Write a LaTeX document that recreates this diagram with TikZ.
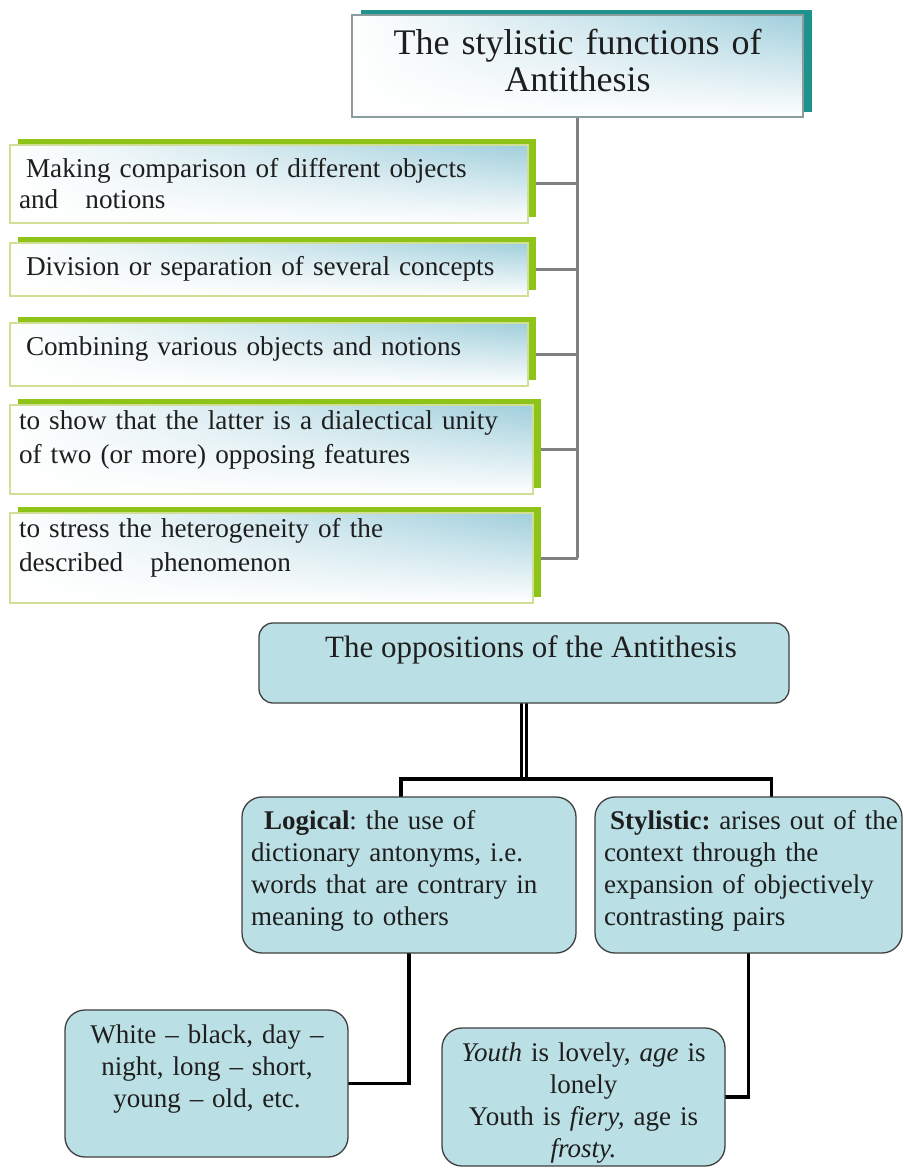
\documentclass[tikz,border=0pt]{standalone}
\usepackage{fontspec}
\setmainfont{Liberation Serif}
\usetikzlibrary{shadows,backgrounds,calc,fadings}

\definecolor{leaf}{RGB}{142,196,24}
\definecolor{tealedge}{RGB}{30,146,140}
\definecolor{paleblue}{RGB}{160,207,220}
\definecolor{boxblue}{RGB}{186,223,228}
\definecolor{paleline}{RGB}{208,222,150}
\definecolor{frame}{RGB}{140,156,156}
\definecolor{trunkgray}{RGB}{128,128,128}
\definecolor{ink}{RGB}{30,30,30}

% white veil that is solid on the left and clear towards the right
\tikzfading[name=leftveil, left color=transparent!0, middle color=transparent!75,
  right color=transparent!100]

\begin{document}
\frenchspacing
\begin{tikzpicture}[x=1pt,y=-1pt,
  every node/.style={inner sep=0pt, outer sep=0pt},
  glowfill/.style={fill=white, path picture={
    \shade[top color=paleblue, bottom color=white]
      (path picture bounding box.south west) rectangle (path picture bounding box.north east);
    \fill[white, path fading=leftveil]
      (path picture bounding box.south west) rectangle (path picture bounding box.north east);}},
  headbox/.style={anchor=north west, draw=frame, line width=1.2pt, glowfill,
    general shadow={shadow xshift=9pt, shadow yshift=5pt, fill=tealedge}},
  fnbox/.style={anchor=north west, draw=paleline, line width=1.2pt, glowfill,
    general shadow={shadow xshift=8pt, shadow yshift=6pt, fill=leaf}},
  roundbox/.style={anchor=north west, draw=ink!85, line width=1.3pt,
    fill=boxblue, rounded corners=#1},
  fntext/.style={anchor=base west, text width=#1, align=left,
    font=\fontsize{27.2}{33}\selectfont, text=ink},
  ctext/.style={anchor=base, text width=#1, align=center,
    font=\fontsize{27}{32}\selectfont, text=ink},
  ltext/.style={anchor=base west, text width=#1, align=left,
    font=\fontsize{27}{32}\selectfont, text=ink},
  graylink/.style={draw=trunkgray, line width=3pt},
  blacklink/.style={draw=black, line width=3.8pt},
]
\useasboundingbox (0,0) rectangle (904,1169);

% ---- upper tree: functions of antithesis
\node[headbox, minimum width=451pt, minimum height=102pt] (top) at (352,15) {};
\node[ctext=440pt, font=\fontsize{36}{37}\selectfont] (toptext) at (577.5,55)
  {The stylistic functions of\\Antithesis};

\node[fnbox, minimum width=518pt, minimum height=78pt] (f1) at (10,145) {};
\node[fnbox, minimum width=518pt, minimum height=53pt] (f2) at (10,243) {};
\node[fnbox, minimum width=518pt, minimum height=63pt] (f3) at (10,323) {};
\node[fnbox, minimum width=523pt, minimum height=89pt] (f4) at (10,405) {};
\node[fnbox, minimum width=523pt, minimum height=90pt] (f5) at (10,513) {};

\node[fntext=505pt, font=\fontsize{27.2}{31}\selectfont] (f1t) at (19,178)
  {\hspace*{7pt}Making comparison of different objects\\and \ \ notions};
\node[fntext=505pt] (f2t) at (19,275)
  {\hspace*{7pt}Division or separation of several concepts};
\node[fntext=505pt] (f3t) at (19,355)
  {\hspace*{7pt}Combining various objects and notions};
\node[fntext=510pt, font=\fontsize{27.2}{34}\selectfont] (f4t) at (19,429)
  {to show that the latter is a dialectical unity\\of two (or more) opposing features};
\node[fntext=510pt, font=\fontsize{27.2}{34}\selectfont] (f5t) at (19,537)
  {to stress the heterogeneity of the\\described \ \ phenomenon};

% ---- lower tree: oppositions of antithesis
\node[roundbox=14pt, minimum width=530pt, minimum height=80pt] (opp) at (259,623) {};
\node[anchor=base, font=\fontsize{31}{34}\selectfont, text=ink] (opptext) at (531,657)
  {The oppositions of the Antithesis};

\node[roundbox=20pt, minimum width=334pt, minimum height=156pt] (logical) at (242,797) {};
\node[roundbox=20pt, minimum width=307pt, minimum height=156pt] (stylistic) at (595,797) {};
\node[ltext=320pt] (logtext) at (251,829)
  {\hspace*{13pt}\textbf{Logical}: the use of\\dictionary antonyms, i.e.\\words that are contrary in\\meaning to others};
\node[ltext=330pt] (stytext) at (604,829)
  {\hspace*{6pt}\textbf{Stylistic:} arises out of the\\context through the\\expansion of objectively\\contrasting pairs};

\node[roundbox=20pt, minimum width=283pt, minimum height=147pt] (white) at (65,1010) {};
\node[roundbox=20pt, minimum width=283pt, minimum height=138pt] (youth) at (442,1028) {};
\node[ctext=270pt] (whitetext) at (207,1043)
  {White -- black, day --\\night, long -- short,\\young -- old, etc.};
\node[ctext=280pt] (youthtext) at (583.5,1061)
  {\textit{Youth} is lovely, \textit{age} is\\lonely\\Youth is \textit{fiery,} age is\\\textit{frosty.}};

\coordinate (hub) at ($(opp.south)+(0,76)$);
\coordinate (lstub) at ($(logical.north)+(-8,0)$);
\coordinate (sstub) at ($(stylistic.north)+(23,0)$);

\begin{pgfonlayer}{background}
  \fill[white] (0,0) rectangle (904,1169);
  % trunk and branches of the upper tree
  \draw[graylink] (top.south) -- (top.south |- f5.east);
  \foreach \i in {1,...,5}
    \draw[graylink] (f\i.east) -- (f\i.east -| top.south);
  % links of the lower tree
  \draw[draw=black, line width=3.2pt, double=white, double distance=2.2pt]
    (opp.south) -- ($(hub)+(0,-2)$);
  \draw[blacklink] (lstub) |- (hub) -| (sstub);
  \draw[blacklink] (logical.south) |- (white.east);
  \draw[blacklink] (stylistic.south) |- (youth.east);
\end{pgfonlayer}
\end{tikzpicture}
\end{document}
